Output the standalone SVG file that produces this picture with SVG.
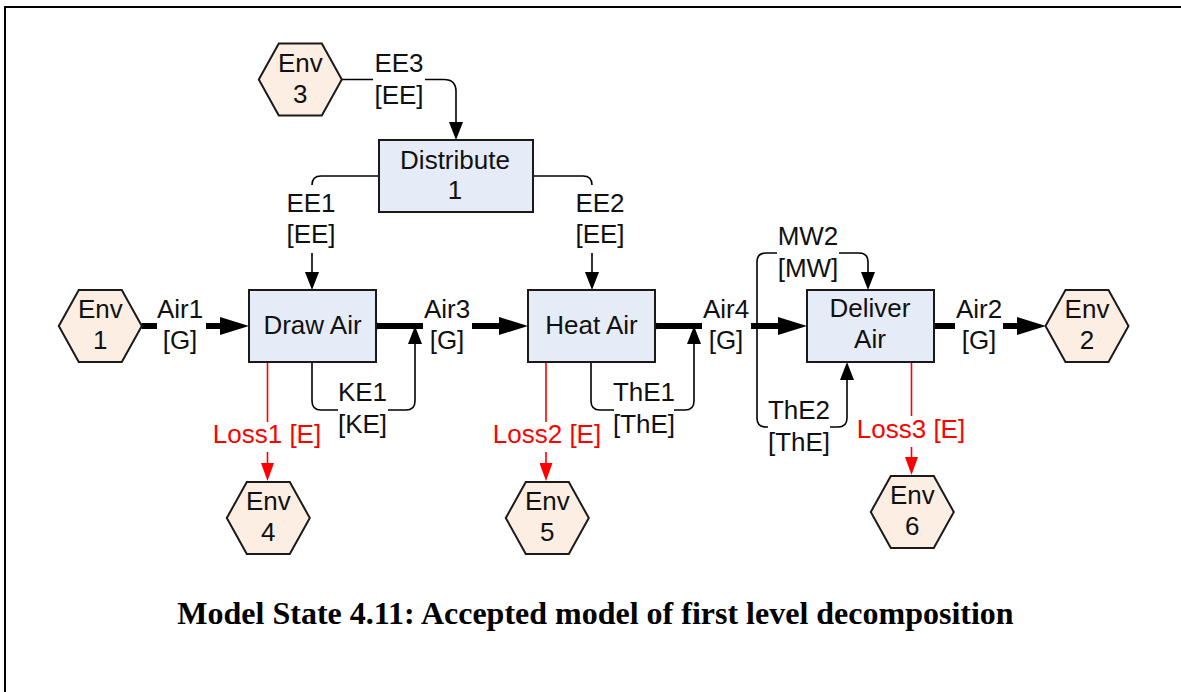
<svg xmlns="http://www.w3.org/2000/svg" width="1181" height="692" viewBox="0 0 1181 692">
<defs>
<style>
.env{fill:#FCEEE3;stroke:#1a1a1a;stroke-width:2}
.box{fill:#E6ECF7;stroke:#1a1a1a;stroke-width:2}
.t{font-family:"Liberation Sans",Arial,sans-serif;font-size:26px;fill:#111;text-anchor:middle}
.lr{fill:#FF0000}
.thick{fill:none;stroke:#000;stroke-width:6}
.thin{fill:none;stroke:#000;stroke-width:1.6}
.loss{fill:none;stroke:#FF0000;stroke-width:1.6}
.cap{font-family:"Liberation Serif","Times New Roman",serif;font-weight:bold;font-size:32px;text-anchor:middle;fill:#000}
.frame{fill:none;stroke:#000;stroke-width:2}
</style>
<marker id="ahThick" markerUnits="userSpaceOnUse" markerWidth="29" markerHeight="18" viewBox="0 0 29 18" refX="2" refY="9" orient="auto"><path d="M0,0 L29,9 L0,18 z" fill="#000"/></marker>
<marker id="ah" markerUnits="userSpaceOnUse" markerWidth="18" markerHeight="14" viewBox="0 0 18 14" refX="1" refY="7" orient="auto"><path d="M0,0 L18,7 L0,14 z" fill="#000"/></marker>
<marker id="ahRed" markerUnits="userSpaceOnUse" markerWidth="18" markerHeight="13" viewBox="0 0 18 13" refX="1" refY="6.5" orient="auto"><path d="M0,0 L18,6.5 L0,13 z" fill="#FF0000"/></marker>
</defs>
<rect width="1181" height="692" fill="#fff"/>
<path class="frame" d="M5,692 V7 H1181"/>

<g id="connectors">
<g id="c-air1"><path class="thick" d="M141.5,326 H157 M206,326 H222" marker-end="url(#ahThick)"/>
<text class="t" x="180" y="317.5">Air1</text><text class="t" x="180" y="349">[G]</text></g>
<g id="c-air3"><path class="thick" d="M376,326 H423 M472,326 H501" marker-end="url(#ahThick)"/><circle cx="376" cy="326" r="3.5"/>
<text class="t" x="447" y="317.5">Air3</text><text class="t" x="447" y="349">[G]</text></g>
<g id="c-air4"><path class="thick" d="M655,326 H702 M751,326 H780" marker-end="url(#ahThick)"/><circle cx="655" cy="326" r="3.5"/>
<text class="t" x="726" y="317.5">Air4</text><text class="t" x="726" y="349">[G]</text></g>
<g id="c-air2"><path class="thick" d="M933,326 H955 M1003,326 H1019" marker-end="url(#ahThick)"/><circle cx="933" cy="326" r="3.5"/>
<text class="t" x="979" y="317.5">Air2</text><text class="t" x="979" y="349">[G]</text></g>
<g id="c-ee3"><path class="thin" d="M342,79.5 H373 M425,79.5 H444 Q456,79.5 456,91.5 V123" marker-end="url(#ah)"/>
<text class="t" x="399" y="71.5">EE3</text><text class="t" x="399" y="103.5">[EE]</text></g>
<g id="c-ee1"><path class="thin" d="M379,176 H321 Q312,176 312,185 M312,253 V273" marker-end="url(#ah)"/>
<text class="t" x="311" y="211.5">EE1</text><text class="t" x="311" y="243">[EE]</text></g>
<g id="c-ee2"><path class="thin" d="M533,176 H583 Q592,176 592,185 M592,253 V273" marker-end="url(#ah)"/>
<text class="t" x="600" y="211.5">EE2</text><text class="t" x="600" y="243">[EE]</text></g>
<g id="c-ke1"><path class="thin" d="M312,362 V401 Q312,410 321,410 H338 M388,410 H406 Q415,410 415,401 V343" marker-end="url(#ah)"/>
<text class="t" x="362.5" y="400.5">KE1</text><text class="t" x="362.5" y="432.5">[KE]</text></g>
<g id="c-the1"><path class="thin" d="M591,362 V401 Q591,410 600,410 H614 M674,410 H685 Q694,410 694,401 V343" marker-end="url(#ah)"/>
<text class="t" x="644" y="400.5">ThE1</text><text class="t" x="644" y="432.5">[ThE]</text></g>
<g id="c-mw2"><path class="thin" d="M757,326 V262 Q757,253 766,253 H777 M839,253 H859 Q868,253 868,262 V273" marker-end="url(#ah)"/>
<text class="t" x="808" y="245">MW2</text><text class="t" x="808" y="277">[MW]</text></g>
<g id="c-the2"><path class="thin" d="M757,326 V418 Q757,427 766,427 H768 M830,427 H838 Q847,427 847,418 V379" marker-end="url(#ah)"/>
<text class="t" x="799" y="419">ThE2</text><text class="t" x="799" y="451">[ThE]</text></g>
<g id="c-loss1"><path class="loss" d="M267.5,362 V422 M267.5,452 V464" marker-end="url(#ahRed)"/>
<text class="t lr" x="267" y="443">Loss1 [E]</text></g>
<g id="c-loss2"><path class="loss" d="M546,362 V422 M546,452 V464" marker-end="url(#ahRed)"/>
<text class="t lr" x="547" y="443">Loss2 [E]</text></g>
<g id="c-loss3"><path class="loss" d="M911.5,362 V416 M911.5,447 V458" marker-end="url(#ahRed)"/>
<text class="t lr" x="911" y="438">Loss3 [E]</text></g>
</g>

<g id="env1"><polygon class="env" transform="translate(100.3,326)" points="-41.5,0 -21.5,-36 21.5,-36 41.5,0 21.5,36 -21.5,36"/>
<text class="t" x="100.3" y="318">Env</text><text class="t" x="100.3" y="349">1</text></g>
<g id="env2"><polygon class="env" transform="translate(1087,326)" points="-41.5,0 -21.5,-36 21.5,-36 41.5,0 21.5,36 -21.5,36"/>
<text class="t" x="1087" y="318">Env</text><text class="t" x="1087" y="349">2</text></g>
<g id="env3"><polygon class="env" transform="translate(300.3,79.5)" points="-41.5,0 -21.5,-36 21.5,-36 41.5,0 21.5,36 -21.5,36"/>
<text class="t" x="300.3" y="71.5">Env</text><text class="t" x="300.3" y="102.5">3</text></g>
<g id="env4"><polygon class="env" transform="translate(268.3,518)" points="-41.5,0 -21.5,-36 21.5,-36 41.5,0 21.5,36 -21.5,36"/>
<text class="t" x="268.3" y="510">Env</text><text class="t" x="268.3" y="541">4</text></g>
<g id="env5"><polygon class="env" transform="translate(547.3,518)" points="-41.5,0 -21.5,-36 21.5,-36 41.5,0 21.5,36 -21.5,36"/>
<text class="t" x="547.3" y="510">Env</text><text class="t" x="547.3" y="541">5</text></g>
<g id="env6"><polygon class="env" transform="translate(912.3,512)" points="-41.5,0 -21.5,-36 21.5,-36 41.5,0 21.5,36 -21.5,36"/>
<text class="t" x="912.3" y="504">Env</text><text class="t" x="912.3" y="535">6</text></g>

<g id="distribute"><rect class="box" x="379" y="140" width="154" height="72"/>
<text class="t" x="455" y="169">Distribute</text><text class="t" x="455" y="199">1</text></g>
<g id="drawair"><rect class="box" x="249" y="290" width="127" height="72"/>
<text class="t" x="312.5" y="334">Draw Air</text></g>
<g id="heatair"><rect class="box" x="528" y="290" width="127" height="72"/>
<text class="t" x="591.5" y="334">Heat Air</text></g>
<g id="deliverair"><rect class="box" x="807" y="290" width="127" height="72"/>
<text class="t" x="870" y="317">Deliver</text><text class="t" x="870" y="348">Air</text></g>

<text class="cap" x="595.5" y="624">Model State 4.11: Accepted model of first level decomposition</text>
</svg>
